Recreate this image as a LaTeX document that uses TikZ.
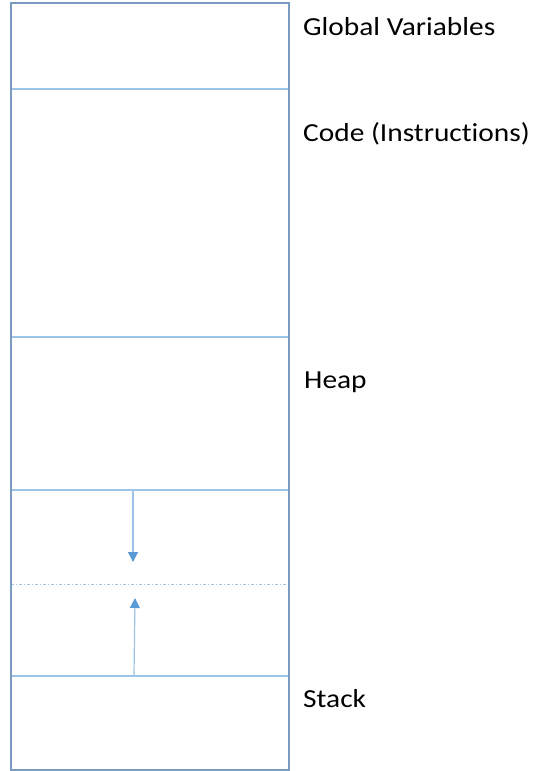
\documentclass[tikz,border=0pt]{standalone}
\usepackage{fontspec}
\setmainfont{Carlito}[FakeStretch=1.13, Ligatures=NoCommon]
\definecolor{frameblue}{HTML}{7A9CC0}
\definecolor{lineblue}{HTML}{9DC3E6}
\definecolor{arrowblue}{HTML}{5B9BD5}
\usetikzlibrary{arrows.meta}
\begin{document}
\begin{tikzpicture}[x=1pt,y=-1pt]
\tikzset{seg/.style={draw=lineblue, line width=1.2pt},
lbl/.style={anchor=base west, inner sep=0pt, font=\fontsize{26}{30}\selectfont}}
\useasboundingbox (0,0) rectangle (537,771);
% segment boundaries
\coordinate (b1l) at (11,89); \coordinate (b1r) at (289,89);
\coordinate (b2l) at (11,337); \coordinate (b2r) at (289,337);
\coordinate (b3l) at (11,490); \coordinate (b3r) at (289,490);
\coordinate (b4l) at (11,584); \coordinate (b4r) at (289,584);
\coordinate (b5l) at (11,676); \coordinate (b5r) at (289,676);
\draw[seg](b1l) -- (b1r);
\draw[seg](b2l) -- (b2r);
\draw[seg](b3l) -- (b3r);
\draw[seg, line width=0.9pt, dash pattern=on 3pt off 2pt on 1pt off 2pt](b4l) -- (b4r);
\draw[seg](b5l) -- (b5r);
\draw[draw=frameblue, line width=1.6pt] (11,3) rectangle (289,770);
% growth arrows
\coordinate (hs) at (133,490); \coordinate (he) at (133,562);
\coordinate (ss) at (134,676); \coordinate (se) at (135,598);
\draw[draw=lineblue, line width=1.2pt, -{Triangle[length=10pt,width=10pt,color=arrowblue]}](hs) -- (he);
\draw[draw=lineblue, line width=1.2pt, -{Triangle[length=10pt,width=10pt,color=arrowblue]}](ss) -- (se);
% labels
\node[lbl] (glob) at (303,35) {Global Variables};
\node[lbl] (code) at (303,141) {Code (Instructions)};
\node[lbl] (heap) at (304,388) {Heap};
\node[lbl] (stack) at (303,707) {Stack};
\end{tikzpicture}
\end{document}
